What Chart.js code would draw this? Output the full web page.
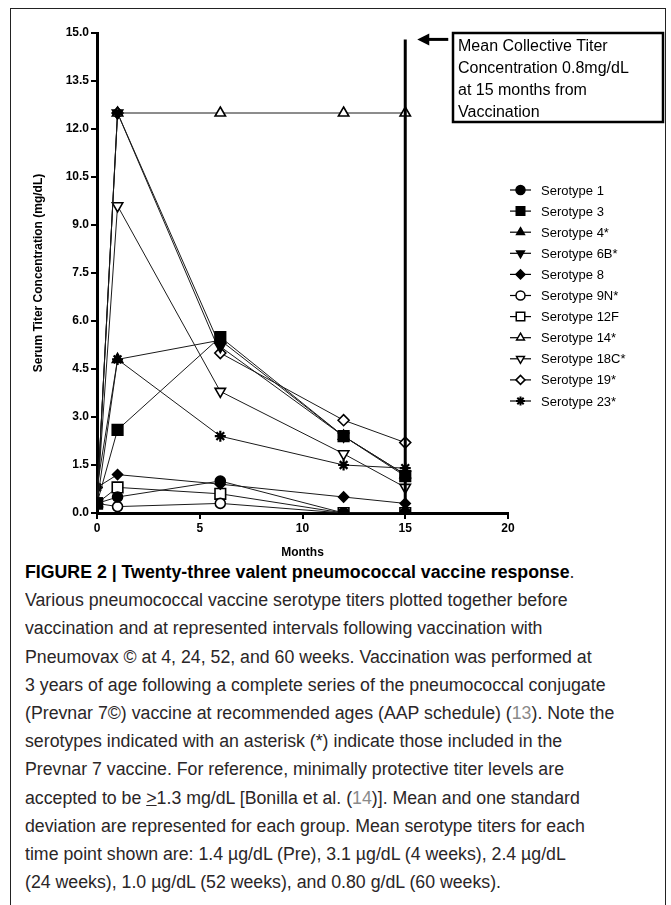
<!DOCTYPE html>
<html>
<head>
<meta charset="utf-8">
<script src="https://cdn.jsdelivr.net/npm/chart.js@4.4.1/dist/chart.umd.min.js"></script>
<style>
    body { margin: 0; background: #fff; width: 671px; height: 905px; overflow: hidden; position: relative; }
    #frame { position: absolute; left: 10px; top: 8px; width: 656px; height: 910px; border: 1.5px solid #222; box-sizing: border-box; }
    #chartBox { position: absolute; left: 0; top: 0; width: 671px; height: 560px; }
    .cap { position: absolute; left: 25px; white-space: nowrap; font-family: "Liberation Sans", Arial, sans-serif;
        font-size: 18px; line-height: 22px; color: #2a2627; transform: scaleX(0.985); transform-origin: left center; }
    .cap b { font-weight: bold; color: #000; }
    .ref { color: #8a8a8a; }
</style>
</head>
<body>
<div id="frame"></div>
<div id="chartBox"><canvas id="grafico" width="671" height="560"></canvas></div>
<div id="caption"></div>
<script>
const months = [0, 1, 6, 12, 15];
const serotypes = ['Serotype 1', 'Serotype 3', 'Serotype 4*', 'Serotype 6B*', 'Serotype 8', 'Serotype 9N*',
    'Serotype 12F', 'Serotype 14*', 'Serotype 18C*', 'Serotype 19*', 'Serotype 23*'];

const sero1 = [0.3, 0.5, 1.0, 0.0, 0.0];
const sero3 = [0.3, 2.6, 5.5, 2.4, 1.15];
const sero4 = [0.3, 4.8, 5.4, 2.4, 1.2];
const sero6B = [0.3, 12.5, 5.2, 2.4, 1.2];
const sero8 = [0.8, 1.2, 0.9, 0.5, 0.3];
const sero9N = [0.3, 0.2, 0.3, 0.0, 0.0];
const sero12F = [0.3, 0.8, 0.6, 0.0, 0.0];
const sero14 = [0.3, 12.5, 12.5, 12.5, 12.5];
const sero18C = [0.3, 9.6, 3.8, 1.85, 0.8];
const sero19 = [0.3, 12.5, 5.0, 2.9, 2.2];
const sero23 = [0.8, 4.8, 2.4, 1.5, 1.4];

const yTicks = [0, 1.5, 3, 4.5, 6, 7.5, 9, 10.5, 12, 13.5, 15];
const xTicks = [0, 5, 10, 15, 20];

const refMonth = 15;
const refTop = 14.8;
const noteLines = ['Mean Collective Titer', 'Concentration 0.8mg/dL', 'at 15 months from', 'Vaccination'];

const captionLines = [
    '<b>FIGURE 2 | Twenty-three valent pneumococcal vaccine response</b>.',
    'Various pneumococcal vaccine serotype titers plotted together before',
    'vaccination and at represented intervals following vaccination with',
    'Pneumovax © at 4, 24, 52, and 60 weeks. Vaccination was performed at',
    '3 years of age following a complete series of the pneumococcal conjugate',
    '(Prevnar 7©) vaccine at recommended ages (AAP schedule) (<span class="ref">13</span>). Note the',
    'serotypes indicated with an asterisk (*) indicate those included in the',
    'Prevnar 7 vaccine. For reference, minimally protective titer levels are',
    'accepted to be <u>&gt;</u>1.3 mg/dL [Bonilla et al. (<span class="ref">14</span>)]. Mean and one standard',
    'deviation are represented for each group. Mean serotype titers for each',
    'time point shown are: 1.4 µg/dL (Pre), 3.1 µg/dL (4 weeks), 2.4 µg/dL',
    '(24 weeks), 1.0 µg/dL (52 weeks), and 0.80 g/dL (60 weeks).'
];

document.getElementById('caption').innerHTML = captionLines
    .map((t, i) => `<div class="cap" style="top:${561 + i * 28.2}px">${t}</div>`).join('');

const seriesData = [sero1, sero3, sero4, sero6B, sero8, sero9N, sero12F, sero14, sero18C, sero19, sero23];
// marker: style, filled, radius, rotation
const markers = [
    ['circle', true, 5, 0], ['rect', true, 7.5, 0], ['triangle', true, 6, 0], ['triangle', true, 6, 180],
    ['rectRot', true, 5, 0], ['circle', false, 5, 0], ['rect', false, 7.5, 0], ['triangle', false, 6, 0],
    ['triangle', false, 6, 180], ['rectRot', false, 5.5, 0], ['star', true, 5.5, 0]
];

const datasets = seriesData.map((vals, i) => ({
    label: serotypes[i],
    data: vals.map((v, j) => ({ x: months[j], y: v })),
    borderColor: '#1a1a1a',
    borderWidth: 1,
    pointStyle: markers[i][0],
    pointBackgroundColor: markers[i][1] ? '#000' : '#fff',
    pointBorderColor: '#000',
    pointBorderWidth: markers[i][0] === 'star' ? 2.2 : 1.6,
    pointRadius: markers[i][2],
    pointRotation: markers[i][3],
    tension: 0
}));

const extras = {
    id: 'extras',
    afterDatasetsDraw(chart) {
        const ctx = chart.ctx;
        const xs = chart.scales.x, ys = chart.scales.y;
        const lx = xs.getPixelForValue(refMonth);
        const topY = ys.getPixelForValue(refTop);
        ctx.save();
        ctx.strokeStyle = '#000';
        ctx.fillStyle = '#000';
        ctx.lineWidth = 3;
        ctx.beginPath();
        ctx.moveTo(lx, ys.getPixelForValue(0));
        ctx.lineTo(lx, topY);
        ctx.stroke();

        // arrow
        ctx.beginPath();
        ctx.moveTo(lx + 43, topY);
        ctx.lineTo(lx + 22, topY);
        ctx.stroke();
        ctx.beginPath();
        ctx.moveTo(lx + 12, topY);
        ctx.lineTo(lx + 24, topY - 6);
        ctx.lineTo(lx + 24, topY + 6);
        ctx.closePath();
        ctx.fill();

        // note box
        ctx.lineWidth = 2.5;
        ctx.strokeRect(453, 33, 210, 89);
        ctx.font = '16px "Liberation Sans", Arial, sans-serif';
        ctx.textBaseline = 'middle';
        ctx.textAlign = 'left';
        noteLines.forEach((t, i) => ctx.fillText(t, 458, 47 + i * 22));

        // legend
        ctx.font = '13px "Liberation Sans", Arial, sans-serif';
        chart.data.datasets.forEach((ds, i) => {
            const y = 190 + i * 21.1;
            ctx.lineWidth = 1.2;
            ctx.strokeStyle = '#000';
            ctx.beginPath();
            ctx.moveTo(510, y);
            ctx.lineTo(531, y);
            ctx.stroke();
            ctx.fillStyle = ds.pointBackgroundColor;
            ctx.strokeStyle = '#000';
            ctx.lineWidth = ds.pointStyle === 'star' ? 2 : 1.5;
            Chart.helpers.drawPoint(ctx, {
                pointStyle: ds.pointStyle,
                radius: ds.pointStyle === 'rect' ? 6 : 4.5,
                rotation: ds.pointRotation,
                borderWidth: ctx.lineWidth
            }, 520.5, y);
            ctx.fillStyle = '#000';
            ctx.fillText(ds.label, 541, y + 1);
        });
        ctx.restore();
    }
};

const boldFont = { family: '"Liberation Sans", Arial, sans-serif', size: 12, weight: 'bold' };

new Chart(document.getElementById('grafico'), {
    type: 'line',
    data: { datasets },
    options: {
        responsive: false,
        animation: false,
        layout: { padding: { top: 33, right: 163, bottom: 0, left: 0 } },
        plugins: { legend: { display: false }, tooltip: { enabled: false } },
        scales: {
            x: {
                type: 'linear',
                min: 0, max: 20,
                afterBuildTicks: s => { s.ticks = xTicks.map(v => ({ value: v })); },
                afterFit: s => { s.height = 47; },
                ticks: { color: '#000', font: boldFont, padding: 2, callback: v => v },
                grid: { drawOnChartArea: false, drawTicks: true, tickLength: 6, color: '#000', lineWidth: 2 },
                border: { color: '#000', width: 3 },
                title: { display: true, text: 'Months', color: '#000', font: boldFont, padding: { top: 2, bottom: 0 } }
            },
            y: {
                min: 0, max: 15,
                afterBuildTicks: s => { s.ticks = yTicks.map(v => ({ value: v })); },
                afterFit: s => { s.width = 97; },
                ticks: { color: '#000', font: boldFont, padding: 2, callback: v => Number(v).toFixed(1) },
                grid: { drawOnChartArea: false, drawTicks: true, tickLength: 6, color: '#000', lineWidth: 2 },
                border: { color: '#000', width: 3 },
                title: { display: true, text: 'Serum Titer Concentration (mg/dL)', color: '#000', font: boldFont,
                    padding: { top: 31, bottom: 0 } }
            }
        }
    },
    plugins: [extras]
});
</script>
</body>
</html>
